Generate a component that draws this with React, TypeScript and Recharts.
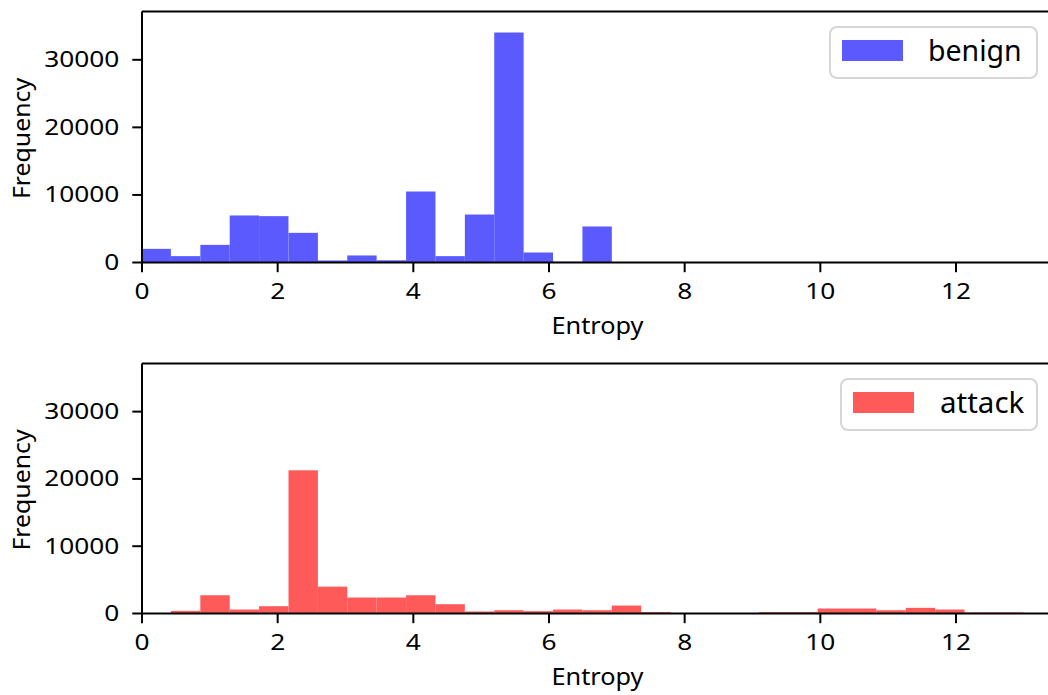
import React from "react";
import { BarChart, Bar, XAxis, YAxis, Legend, ReferenceLine } from "recharts";

// ---- data ----
const BIN_LEFT = [
  0, 0.433, 0.867, 1.3, 1.733, 2.167, 2.6, 3.033, 3.467, 3.9,
  4.333, 4.767, 5.2, 5.633, 6.067, 6.5, 6.933, 7.367, 7.8, 8.233,
  8.667, 9.1, 9.533, 9.967, 10.4, 10.833, 11.267, 11.7, 12.133, 12.567,
];
const BIN_WIDTH = 0.4333;
const BENIGN = [
  2020, 940, 2610, 6960, 6860, 4390, 300, 1040, 330, 10510,
  940, 7100, 34040, 1480, 100, 5330, 0, 0, 0, 0,
  0, 0, 0, 0, 0, 0, 0, 0, 0, 0,
];
const ATTACK = [
  0, 390, 2710, 590, 1080, 21280, 3990, 2370, 2370, 2710,
  1380, 300, 490, 350, 590, 490, 1180, 200, 0, 0,
  0, 200, 200, 740, 740, 490, 840, 590, 150, 150,
];
const X_TICKS = [0, 2, 4, 6, 8, 10, 12];
const Y_TICKS = [0, 10000, 20000, 30000];
const X_DOMAIN: [number, number] = [0, 13.43];
const Y_DOMAIN: [number, number] = [0, 37150];

// ---- styling ----
const FONT = "'Noto Sans', 'DejaVu Sans', sans-serif";
const BLUE = "#5a5aff";
const RED = "#ff5a5a";
const CHART_W = 1053;
const Y_AXIS_W = 142;
const PLOT_W = CHART_W - Y_AXIS_W;
const BIN_PX = (PLOT_W * BIN_WIDTH) / (X_DOMAIN[1] - X_DOMAIN[0]);

const benignData = BIN_LEFT.map((l, i) => ({ x: l + BIN_WIDTH / 2, v: BENIGN[i] }));
const attackData = BIN_LEFT.map((l, i) => ({ x: l + BIN_WIDTH / 2, v: ATTACK[i] }));

const axisStroke = { stroke: "#000", strokeWidth: 2 };

// histogram bar: keep the library's centre and height, span the full bin width
const HistBar = (props: any) => {
  const { x, y, width, height, fill } = props;
  if (!height || height <= 0) return null;
  const cx = x + width / 2;
  return <rect x={cx - BIN_PX / 2} y={y} width={BIN_PX} height={height} fill={fill} />;
};

const XTick = (props: any) => {
  const { x, y, payload } = props;
  return (
    <g transform={`translate(${x},${y})`}>
      <text textAnchor="middle" y={15} fontSize={21} fontFamily={FONT} fill="#000" transform="scale(1.25,1)">
        {payload.value}
      </text>
    </g>
  );
};

const YTick = (props: any) => {
  const { x, y, payload } = props;
  return (
    <g transform={`translate(${x},${y})`}>
      <text textAnchor="end" y={7.5} fontSize={21} fontFamily={FONT} fill="#000" transform="scale(1.25,1)">
        {payload.value}
      </text>
    </g>
  );
};

const XLabel = (props: any) => {
  const vb = props.viewBox || {};
  const cx = vb.x + vb.width / 2;
  const by = vb.y + 71.5;
  return (
    <g transform={`translate(${cx},${by}) scale(1.1,1)`}>
      <text textAnchor="middle" fontSize={23} fontFamily={FONT} fill="#000">
        Entropy
      </text>
    </g>
  );
};

const YLabel = (props: any) => {
  const vb = props.viewBox || {};
  const cy = vb.y + vb.height / 2 + 1.5;
  return (
    <g transform={`translate(29.5,${cy}) rotate(-90) scale(1.08,1)`}>
      <text textAnchor="middle" fontSize={23} fontFamily={FONT} fill="#000">
        Frequency
      </text>
    </g>
  );
};

const makeLegend = (label: string, color: string, w: number, textX: number, fs: number) => () => (
  <svg width={w} height={53} style={{ display: "block" }}>
    <rect x={1} y={1} width={w - 2} height={51} rx={7} ry={7} fill="#fff" fillOpacity={0.8} stroke="#d6d6d6" strokeWidth={2} />
    <rect x={13} y={14} width={61} height={21} fill={color} />
    <text x={textX} y={35} fontSize={fs} fontFamily={FONT} fill="#000">
      {label}
    </text>
  </svg>
);

type PanelProps = {
  data: { x: number; v: number }[];
  color: string;
  name: string;
  height: number;
  marginTop: number;
  plotH: number;
  legendLeft: number;
  legendTop: number;
  legendW: number;
  legendTextX: number;
  legendFs: number;
};

const Panel = ({ data, color, name, height, marginTop, plotH, legendLeft, legendTop, legendW, legendTextX, legendFs }: PanelProps) => (
  <BarChart
    width={CHART_W}
    height={height}
    data={data}
    margin={{ top: marginTop, right: 0, bottom: 0, left: 0 }}
    barCategoryGap={0}
    barGap={0}
  >
    <XAxis
      dataKey="x"
      type="number"
      domain={X_DOMAIN}
      ticks={X_TICKS}
      allowDataOverflow
      height={height - marginTop - plotH}
      tickSize={9.7}
      tickMargin={12}
      tick={<XTick />}
      tickLine={axisStroke}
      axisLine={axisStroke}
      label={<XLabel />}
    />
    <YAxis
      type="number"
      domain={Y_DOMAIN}
      ticks={Y_TICKS}
      allowDataOverflow
      width={Y_AXIS_W}
      tickSize={9.7}
      tickMargin={13}
      tick={<YTick />}
      tickLine={axisStroke}
      axisLine={axisStroke}
      label={<YLabel />}
    />
    <Legend
      layout="horizontal"
      verticalAlign="middle"
      align="center"
      wrapperStyle={{ left: legendLeft, top: legendTop, width: legendW, height: 53 }}
      content={makeLegend(name, color, legendW, legendTextX, legendFs)}
    />
    <Bar dataKey="v" name={name} fill={color} barSize={BIN_PX - 1} shape={<HistBar />} isAnimationActive={false} />
    <ReferenceLine y={Y_DOMAIN[1]} stroke="#000" strokeWidth={2} ifOverflow="visible" />
  </BarChart>
);

export default function App() {
  return (
    <div
      style={{
        position: "absolute",
        left: 0,
        top: 0,
        width: 1048,
        height: 695,
        overflow: "hidden",
        background: "#fff",
      }}
    >
      <div style={{ position: "absolute", left: 0, top: 0 }}>
        <Panel data={benignData} color={BLUE} name="benign" height={348} marginTop={11.5} plotH={251}
          legendLeft={829} legendTop={26} legendW={209} legendTextX={99} legendFs={28.5} />
      </div>
      <div style={{ position: "absolute", left: 0, top: 348 }}>
        <Panel data={attackData} color={RED} name="attack" height={347} marginTop={15.5} plotH={250}
          legendLeft={840} legendTop={30} legendW={198} legendTextX={100} legendFs={29.5} />
      </div>
    </div>
  );
}
